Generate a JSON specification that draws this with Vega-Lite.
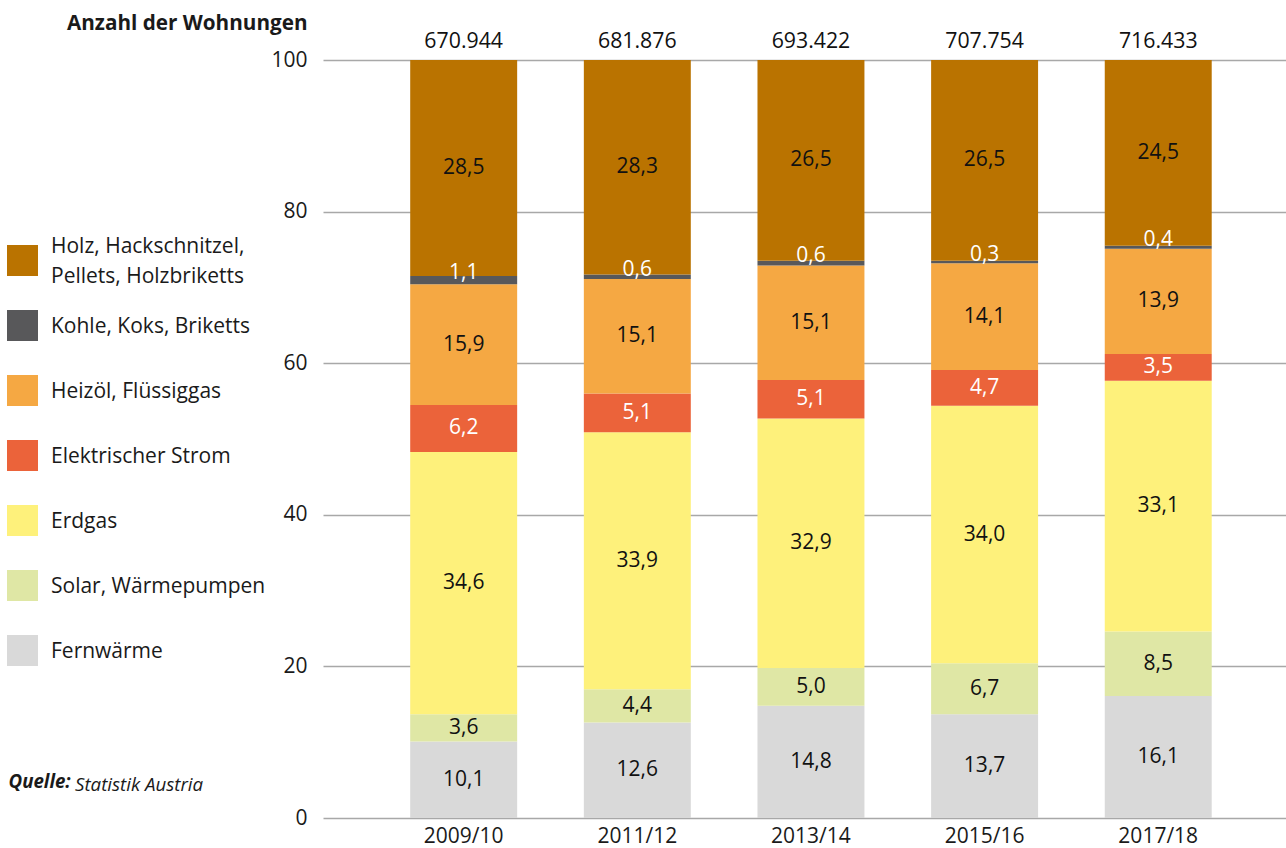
{
  "$schema": "https://vega.github.io/schema/vega-lite/v6.json",
  "width": 963,
  "height": 758,
  "autosize": {"type": "none"},
  "padding": {"left": 323, "top": 60, "right": 0, "bottom": 30},
  "background": "white",
  "config": {
    "font": "Open Sans",
    "view": {"stroke": null},
    "locale": {
      "number": {"decimal": ",", "thousands": ".", "grouping": [3], "currency": ["", " €"]}
    },
    "style": {"guide-label": {"lineHeight": 15}},
    "axis": {
      "labelFont": "Open Sans",
      "labelFontSize": 21,
      "labelColor": "#1a1a1a",
      "titleFont": "Open Sans",
      "titleColor": "#1a1a1a"
    }
  },
  "title": {
    "text": "Statistik Austria",
    "orient": "bottom",
    "anchor": "start",
    "frame": "group",
    "font": "Open Sans",
    "fontSize": 18.7,
    "fontStyle": "italic",
    "fontWeight": "normal",
    "color": "#1a1a1a",
    "dx": -248,
    "dy": -74
  },
  "datasets": {
    "shares": [
      {"year": "2009/10", "energy": "Fernwärme", "order": 1, "value": 10.1},
      {"year": "2009/10", "energy": "Solar, Wärmepumpen", "order": 2, "value": 3.6},
      {"year": "2009/10", "energy": "Erdgas", "order": 3, "value": 34.6},
      {"year": "2009/10", "energy": "Elektrischer Strom", "order": 4, "value": 6.2},
      {"year": "2009/10", "energy": "Heizöl, Flüssiggas", "order": 5, "value": 15.9},
      {"year": "2009/10", "energy": "Kohle, Koks, Briketts", "order": 6, "value": 1.1},
      {"year": "2009/10", "energy": "Holz, Hackschnitzel, Pellets, Holzbriketts", "order": 7, "value": 28.5},
      {"year": "2011/12", "energy": "Fernwärme", "order": 1, "value": 12.6},
      {"year": "2011/12", "energy": "Solar, Wärmepumpen", "order": 2, "value": 4.4},
      {"year": "2011/12", "energy": "Erdgas", "order": 3, "value": 33.9},
      {"year": "2011/12", "energy": "Elektrischer Strom", "order": 4, "value": 5.1},
      {"year": "2011/12", "energy": "Heizöl, Flüssiggas", "order": 5, "value": 15.1},
      {"year": "2011/12", "energy": "Kohle, Koks, Briketts", "order": 6, "value": 0.6},
      {"year": "2011/12", "energy": "Holz, Hackschnitzel, Pellets, Holzbriketts", "order": 7, "value": 28.3},
      {"year": "2013/14", "energy": "Fernwärme", "order": 1, "value": 14.8},
      {"year": "2013/14", "energy": "Solar, Wärmepumpen", "order": 2, "value": 5.0},
      {"year": "2013/14", "energy": "Erdgas", "order": 3, "value": 32.9},
      {"year": "2013/14", "energy": "Elektrischer Strom", "order": 4, "value": 5.1},
      {"year": "2013/14", "energy": "Heizöl, Flüssiggas", "order": 5, "value": 15.1},
      {"year": "2013/14", "energy": "Kohle, Koks, Briketts", "order": 6, "value": 0.6},
      {"year": "2013/14", "energy": "Holz, Hackschnitzel, Pellets, Holzbriketts", "order": 7, "value": 26.5},
      {"year": "2015/16", "energy": "Fernwärme", "order": 1, "value": 13.7},
      {"year": "2015/16", "energy": "Solar, Wärmepumpen", "order": 2, "value": 6.7},
      {"year": "2015/16", "energy": "Erdgas", "order": 3, "value": 34.0},
      {"year": "2015/16", "energy": "Elektrischer Strom", "order": 4, "value": 4.7},
      {"year": "2015/16", "energy": "Heizöl, Flüssiggas", "order": 5, "value": 14.1},
      {"year": "2015/16", "energy": "Kohle, Koks, Briketts", "order": 6, "value": 0.3},
      {"year": "2015/16", "energy": "Holz, Hackschnitzel, Pellets, Holzbriketts", "order": 7, "value": 26.5},
      {"year": "2017/18", "energy": "Fernwärme", "order": 1, "value": 16.1},
      {"year": "2017/18", "energy": "Solar, Wärmepumpen", "order": 2, "value": 8.5},
      {"year": "2017/18", "energy": "Erdgas", "order": 3, "value": 33.1},
      {"year": "2017/18", "energy": "Elektrischer Strom", "order": 4, "value": 3.5},
      {"year": "2017/18", "energy": "Heizöl, Flüssiggas", "order": 5, "value": 13.9},
      {"year": "2017/18", "energy": "Kohle, Koks, Briketts", "order": 6, "value": 0.4},
      {"year": "2017/18", "energy": "Holz, Hackschnitzel, Pellets, Holzbriketts", "order": 7, "value": 24.5}
    ],
    "totals": [
      {"year": "2009/10", "total": 670944},
      {"year": "2011/12", "total": 681876},
      {"year": "2013/14", "total": 693422},
      {"year": "2015/16", "total": 707754},
      {"year": "2017/18", "total": 716433}
    ]
  },
  "layer": [
    {
      "data": {"name": "shares"},
      "transform": [
        {"stack": "value", "groupby": ["year"], "sort": [{"field": "order", "order": "ascending"}], "as": ["y0", "y1"]}
      ],
      "mark": {"type": "bar"},
      "encoding": {
        "x": {
          "field": "year",
          "type": "nominal",
          "sort": ["2009/10", "2011/12", "2013/14", "2015/16", "2017/18"],
          "scale": {"paddingInner": 0.384, "paddingOuter": 0.465, "align": 0.54},
          "title": "Quelle:",
          "axis": {
            "labelAngle": 0,
            "labelPadding": 7,
            "labelBaseline": "top",
            "domain": false,
            "ticks": false,
            "grid": false,
            "titleX": -315,
            "titleY": -31,
            "titleAlign": "left",
            "titleAnchor": null,
            "titleBaseline": "alphabetic",
            "titleFontSize": 18.7,
            "titleFontStyle": "italic",
            "titleFontWeight": "bold"
          }
        },
        "y": {
          "field": "y0",
          "type": "quantitative",
          "scale": {"domain": [0, 100], "nice": false},
          "title": "Anzahl der Wohnungen",
          "axis": {
            "values": [0, 20, 40, 60, 80, 100],
            "domain": false,
            "ticks": false,
            "grid": true,
            "gridColor": "#a8a8a8",
            "gridWidth": 1.6,
            "labelPadding": 16,
            "titleAngle": 0,
            "titleAlign": "right",
            "titleBaseline": "alphabetic",
            "titleX": -16,
            "titleY": -31,
            "titleFontSize": 20.7,
            "titleFontWeight": "bold"
          }
        },
        "y2": {"field": "y1"},
        "color": {
          "field": "energy",
          "type": "nominal",
          "scale": {
            "domain": [
              "Holz, Hackschnitzel, Pellets, Holzbriketts",
              "Kohle, Koks, Briketts",
              "Heizöl, Flüssiggas",
              "Elektrischer Strom",
              "Erdgas",
              "Solar, Wärmepumpen",
              "Fernwärme"
            ],
            "range": ["#ba7300", "#58585a", "#f5a843", "#eb633a", "#fef17b", "#dfe7a5", "#d9d9d9"]
          },
          "legend": {
            "orient": "none",
            "legendX": -316,
            "legendY": 171,
            "title": null,
            "padding": 0,
            "symbolType": "M-1,-0.097H1V1.903H-1Z",
            "symbolSize": 961,
            "symbolStrokeWidth": 0,
            "symbolOpacity": 1,
            "labelFont": "Open Sans",
            "labelFontSize": 21,
            "labelColor": "#1a1a1a",
            "labelOffset": 13,
            "labelLimit": 320,
            "rowPadding": 9,
            "labelExpr": "datum.label == 'Holz, Hackschnitzel, Pellets, Holzbriketts' ? ['Holz, Hackschnitzel,', '\u200b', 'Pellets, Holzbriketts'] : ['\u200b', datum.label, '\u200b']"
          }
        }
      }
    },
    {
      "data": {"name": "shares"},
      "transform": [
        {"stack": "value", "groupby": ["year"], "sort": [{"field": "order", "order": "ascending"}], "as": ["y0", "y1"]},
        {"calculate": "(datum.y0 + datum.y1) / 2", "as": "mid"},
        {"filter": "datum.energy != 'Kohle, Koks, Briketts'"}
      ],
      "mark": {"type": "text", "fontSize": 21, "baseline": "middle", "align": "center", "font": "Open Sans"},
      "encoding": {
        "x": {"field": "year", "type": "nominal", "sort": ["2009/10", "2011/12", "2013/14", "2015/16", "2017/18"], "title": "Quelle:"},
        "y": {"field": "mid", "type": "quantitative", "title": "Anzahl der Wohnungen"},
        "text": {"field": "value", "type": "quantitative", "format": ".1f"},
        "color": {
          "condition": {"test": "datum.energy == 'Elektrischer Strom'", "value": "#ffffff"},
          "value": "#111111"
        }
      }
    },
    {
      "data": {"name": "shares"},
      "transform": [
        {"stack": "value", "groupby": ["year"], "sort": [{"field": "order", "order": "ascending"}], "as": ["y0", "y1"]},
        {"calculate": "(datum.y0 + datum.y1) / 2", "as": "mid"},
        {"filter": "datum.energy == 'Kohle, Koks, Briketts'"}
      ],
      "mark": {"type": "text", "fontSize": 21, "baseline": "middle", "align": "center", "font": "Open Sans", "dy": -7, "color": "#ffffff"},
      "encoding": {
        "x": {"field": "year", "type": "nominal", "sort": ["2009/10", "2011/12", "2013/14", "2015/16", "2017/18"], "title": "Quelle:"},
        "y": {"field": "mid", "type": "quantitative", "title": "Anzahl der Wohnungen"},
        "text": {"field": "value", "type": "quantitative", "format": ".1f"}
      }
    },
    {
      "data": {"name": "totals"},
      "mark": {"type": "text", "fontSize": 21.3, "baseline": "alphabetic", "align": "center", "font": "Open Sans", "dy": -12, "color": "#111111"},
      "encoding": {
        "x": {"field": "year", "type": "nominal", "sort": ["2009/10", "2011/12", "2013/14", "2015/16", "2017/18"], "title": "Quelle:"},
        "y": {"datum": 100, "type": "quantitative"},
        "text": {"field": "total", "type": "quantitative", "format": ",d"}
      }
    }
  ]
}
